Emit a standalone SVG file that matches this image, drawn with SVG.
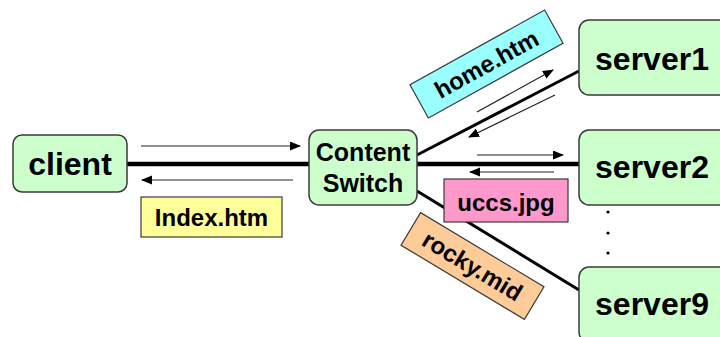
<svg xmlns="http://www.w3.org/2000/svg" width="720" height="337" viewBox="0 0 720 337">
  <style>
    .node { fill: #CCFFCC; stroke: #3a3a3a; stroke-width: 1.5; }
    .big { font-family: "Liberation Sans", Arial, sans-serif; font-weight: bold; font-size: 32px; fill: #000; text-anchor: middle; }
    .mid { font-family: "Liberation Sans", Arial, sans-serif; font-weight: bold; font-size: 24px; fill: #000; text-anchor: middle; }
    .tag { stroke: #3a3a3a; stroke-width: 1.2; }
    .link { stroke: #000; fill: none; }
    .thick { stroke-width: 4.5; }
    .diag { stroke-width: 3; }
    .flow { stroke: #222; stroke-width: 1.2; fill: none; marker-end: url(#head); }
  </style>
  <defs>
    <marker id="head" markerUnits="userSpaceOnUse" markerWidth="11" markerHeight="10" refX="10" refY="4.5" orient="auto">
      <path d="M0,0 L11,4.5 L0,9 z" fill="#000"/>
    </marker>
  </defs>

  <rect width="720" height="337" fill="#fff"/>

  <!-- connectors -->
  <g id="connectors">
    <line class="link thick" x1="127" y1="164" x2="309" y2="164"/>
    <line class="link thick" x1="417" y1="164" x2="579" y2="164"/>
    <line class="link diag" x1="417" y1="155" x2="579" y2="71"/>
    <line class="link diag" x1="417" y1="191" x2="579" y2="290"/>

    <!-- request / response flows -->
    <line class="flow" x1="141" y1="146" x2="300" y2="146"/>
    <line class="flow" x1="293" y1="180" x2="142" y2="180"/>
    <line class="flow" x1="477" y1="112" x2="553" y2="70"/>
    <line class="flow" x1="555" y1="95" x2="469" y2="137"/>
    <line class="flow" x1="477" y1="155" x2="563" y2="155"/>
    <line class="flow" x1="554" y1="172" x2="470" y2="172"/>
  </g>

  <!-- nodes -->
  <g id="client">
    <rect class="node" x="13" y="135" width="114" height="57" rx="9"/>
    <text class="big" x="70" y="175">client</text>
  </g>

  <g id="content-switch">
    <rect class="node" x="309" y="130" width="108" height="75" rx="10"/>
    <text class="mid" x="363" y="161" style="font-size:25px">Content</text>
    <text class="mid" x="363" y="192" style="font-size:25px">Switch</text>
  </g>

  <g id="server1">
    <rect class="node" x="579" y="20" width="160" height="75" rx="10"/>
    <text class="big" x="652" y="70">server1</text>
  </g>

  <g id="server2">
    <rect class="node" x="579" y="130" width="160" height="75" rx="10"/>
    <text class="big" x="652" y="178">server2</text>
  </g>

  <g id="server9">
    <rect class="node" x="579" y="267" width="160" height="75" rx="10"/>
    <text class="big" x="652" y="315">server9</text>
  </g>

  <!-- ellipsis between server2 and server9 -->
  <g id="more-servers" fill="#000">
    <circle cx="608" cy="212" r="1.6"/>
    <circle cx="608" cy="233" r="1.6"/>
    <circle cx="608" cy="253" r="1.6"/>
  </g>

  <!-- content labels -->
  <g id="index-htm">
    <rect class="tag" x="141" y="197" width="141" height="40" fill="#FFFF99"/>
    <text class="mid" x="211.5" y="226">Index.htm</text>
  </g>

  <g id="home-htm" transform="translate(486.5 64) rotate(-29)">
    <rect class="tag" x="-77" y="-19" width="154" height="38" fill="#99FFFF"/>
    <text class="mid" x="0" y="8.5">home.htm</text>
  </g>

  <g id="uccs-jpg">
    <rect class="tag" x="444" y="179" width="124" height="43" fill="#FF99CC"/>
    <text class="mid" x="506" y="211">uccs.jpg</text>
  </g>

  <g id="rocky-mid" transform="translate(472.5 266) rotate(31)">
    <rect class="tag" x="-72" y="-19" width="144" height="38" fill="#FFCC99"/>
    <text class="mid" x="0" y="8.5">rocky.mid</text>
  </g>
</svg>
